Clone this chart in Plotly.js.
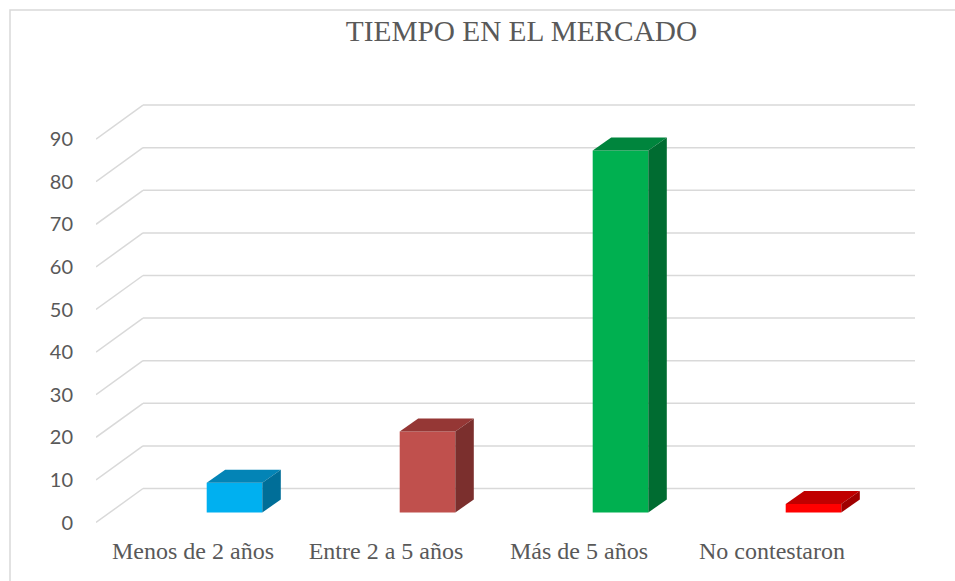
<!DOCTYPE html>
<html>
<head>
<meta charset="utf-8">
<script src="https://cdn.plot.ly/plotly-3.0.1.min.js"></script>
<style>html,body{margin:0;padding:0;background:#fff;}#chart{width:955px;height:581px;}</style>
</head>
<body>
<div id="chart"></div>
<script>
// ---- data ----
const categories = ["Menos de 2 años", "Entre 2 a 5 años", "Más de 5 años", "No contestaron"];
const values = [7, 19, 85, 2];
const frontColors = ["#00B0F0", "#C0504D", "#00B050", "#FF0000"];
const topColors = ["#0384B6", "#953735", "#00853D", "#C00000"];
const sideColors = ["#006E98", "#7B2F2D", "#006C31", "#A00000"];
const yTicks = [0, 10, 20, 30, 40, 50, 60, 70, 80, 90];
const chartTitle = "TIEMPO EN EL MERCADO";

// ---- geometry (pixels) ----
const W = 955, H = 581;
const L = 96, R = 915, T = 95, B = 530;
const zeroPx = 512.5;        // bar plane zero
const s = 4.26;              // px per unit
const catPx = 193;           // px per category
const firstBarPx = 234.5;    // center of first bar front face
const x0 = -(firstBarPx - L) / catPx;
const x1 = x0 + (R - L) / catPx;
const y0 = -(B - zeroPx) / s;
const y1 = (zeroPx - T) / s;
const barW = 55.6 / catPx;
const ddx = 18.5 / catPx, ddy = 13 / s;       // bar depth
const backDx = 47 / catPx, backDy = 24 / s, frontDy = -10 / s; // wall
const labelDx = -41.5 / catPx;                // category labels sit on the front plane

const idx = categories.map((_, i) => i);
const shapes = [];
// outer border
shapes.push({type:'rect', xref:'paper', yref:'paper', layer:'below',
  x0:(10-L)/(R-L), x1:(965-L)/(R-L), y0:(B-595)/(B-T), y1:(B-10)/(B-T),
  line:{color:'#D9D9D9', width:1.5}, fillcolor:'rgba(0,0,0,0)'});
// walls / gridlines
yTicks.forEach(v => {
  shapes.push({type:'line', xref:'x', yref:'y', layer:'below',
    x0:x0 + backDx, x1:x1, y0:v + backDy, y1:v + backDy,
    line:{color:'#D9D9D9', width:1.5}});
  shapes.push({type:'line', xref:'x', yref:'y', layer:'below',
    x0:x0, x1:x0 + backDx, y0:v + frontDy, y1:v + backDy,
    line:{color:'#D9D9D9', width:1.5}});
});
// 3D faces of bars
values.forEach((v, i) => {
  const xl = idx[i] - barW / 2, xr = idx[i] + barW / 2;
  shapes.push({type:'path', xref:'x', yref:'y', layer:'above',
    path:`M${xl},${v} L${xr},${v} L${xr+ddx},${v+ddy} L${xl+ddx},${v+ddy} Z`,
    fillcolor:topColors[i], line:{width:0}});
  shapes.push({type:'path', xref:'x', yref:'y', layer:'above',
    path:`M${xr},0 L${xr},${v} L${xr+ddx},${v+ddy} L${xr+ddx},${ddy} Z`,
    fillcolor:sideColors[i], line:{width:0}});
});

const trace = {
  type:'bar', x:idx, y:values, width:barW,
  marker:{color:frontColors, line:{width:0}},
  hoverinfo:'x+y'
};

const layout = {
  width:W, height:H,
  margin:{l:L, r:W-R, t:T, b:H-B, pad:0},
  paper_bgcolor:'#ffffff', plot_bgcolor:'rgba(0,0,0,0)',
  showlegend:false,
  title:{text:chartTitle, font:{family:'Liberation Serif', size:29.3, color:'#595959'},
    xref:'container', x:521.5/W, xanchor:'center',
    yref:'container', y:1 - 31/H, yanchor:'middle'},
  xaxis:{range:[x0, x1], tickvals:idx.map(i => i + labelDx), ticktext:categories,
    showgrid:false, zeroline:false, showline:false, ticks:'', automargin:false, fixedrange:true,
    ticklabelstandoff:4,
    tickfont:{family:'Liberation Serif', size:24, color:'#595959'}},
  yaxis:{range:[y0, y1], tickvals:yTicks.map(v => v + frontDy), ticktext:yTicks.map(String),
    showgrid:false, zeroline:false, showline:false, ticks:'', automargin:false, fixedrange:true,
    ticklabelstandoff:22,
    tickfont:{family:'Lato', size:20, color:'#595959'}},
  shapes:shapes
};

Plotly.newPlot('chart', [trace], layout, {displayModeBar:false, staticPlot:true});
</script>
</body>
</html>
